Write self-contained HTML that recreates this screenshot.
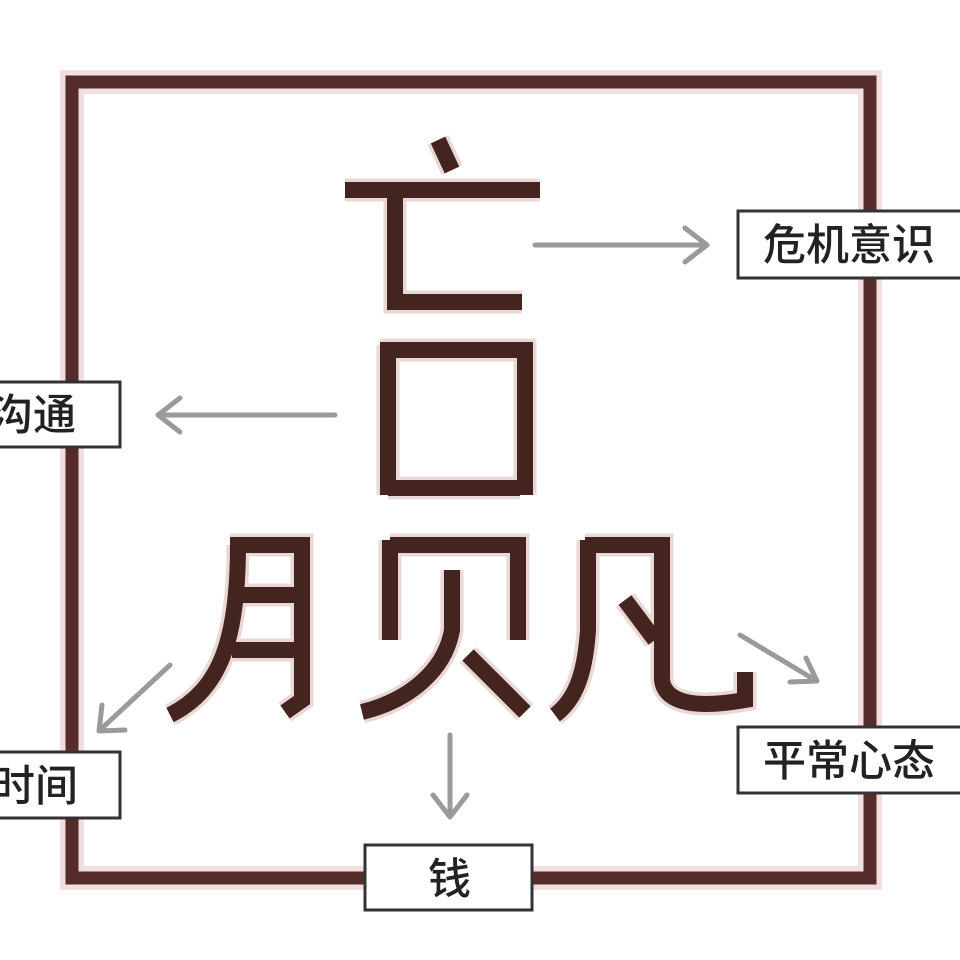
<!DOCTYPE html>
<html><head><meta charset="utf-8"><style>
html,body{margin:0;padding:0;background:#fff;width:960px;height:960px;overflow:hidden}
text{font-family:"Liberation Sans","Noto Sans CJK SC",sans-serif;fill:#222;font-weight:500}
</style></head><body>
<svg width="960" height="960" viewBox="0 0 960 960" xmlns="http://www.w3.org/2000/svg">
<rect x="72" y="82" width="798" height="796" fill="none" stroke="#f2dede" stroke-width="24"/>
<rect x="72" y="82" width="798" height="796" fill="none" stroke="#552c2a" stroke-width="13"/>
<g fill="none" stroke-linecap="butt" stroke-linejoin="miter">
<g stroke="#e9d8d6" stroke-width="23">
<path d="M438 140 L452 170"/>
<path d="M345 190 H540 M395 190 V302 H522"/>
<path d="M388 345 V495 M380 350 H525 V495 M388 488 H520"/>
<path d="M238 545 C238 640 220 690 170 715 M230 545 H302 V700 L285 712 M232 595 H300 M232 650 H300"/>
<path d="M390 540 V640 M390 545 H518 V640 M452 570 V630 C445 670 410 700 362 712 M468 655 L525 712"/>
<path d="M588 540 V630 C585 675 575 700 555 715 M585 545 H662 V680 C665 705 700 708 745 700 V672 M625 600 L655 640"/>
</g>
<g stroke="#43241f" stroke-width="16">
<path d="M438 140 L452 170"/>
<path d="M345 190 H540 M395 190 V302 H522"/>
<path d="M388 345 V495 M380 350 H525 V495 M388 488 H520"/>
<path d="M238 545 C238 640 220 690 170 715 M230 545 H302 V700 L285 712 M232 595 H300 M232 650 H300"/>
<path d="M390 540 V640 M390 545 H518 V640 M452 570 V630 C445 670 410 700 362 712 M468 655 L525 712"/>
<path d="M588 540 V630 C585 675 575 700 555 715 M585 545 H662 V680 C665 705 700 708 745 700 V672 M625 600 L655 640"/>
</g>
</g>
<g stroke="#9a9a9a" stroke-width="5" fill="none" stroke-linecap="round" stroke-linejoin="round">
<path d="M535 245 H705 M685 228 L707 245 L685 262"/>
<path d="M335 415 H160 M180 398 L158 415 L180 432"/>
<path d="M170 665 L100 730 M102 705 L99 731 L125 730"/>
<path d="M450 735 V815 M433 795 L450 817 L467 795"/>
<path d="M740 635 L815 680 M790 682 L817 681 L806 658"/>
</g>
<g fill="#fff" stroke="#333" stroke-width="3">
<rect x="738" y="211" width="230" height="67"/>
<rect x="-10" y="382" width="130" height="65"/>
<rect x="-10" y="752" width="130" height="66"/>
<rect x="738" y="727" width="230" height="66"/>
<rect x="365" y="845" width="167" height="65"/>
</g>
<text x="763" y="260" font-size="43">危机意识</text>
<text x="-10" y="430" font-size="43">沟通</text>
<text x="-8" y="801" font-size="43">时间</text>
<text x="763" y="776" font-size="43">平常心态</text>
<text x="428" y="894" font-size="43">钱</text>
</svg>
</body></html>
